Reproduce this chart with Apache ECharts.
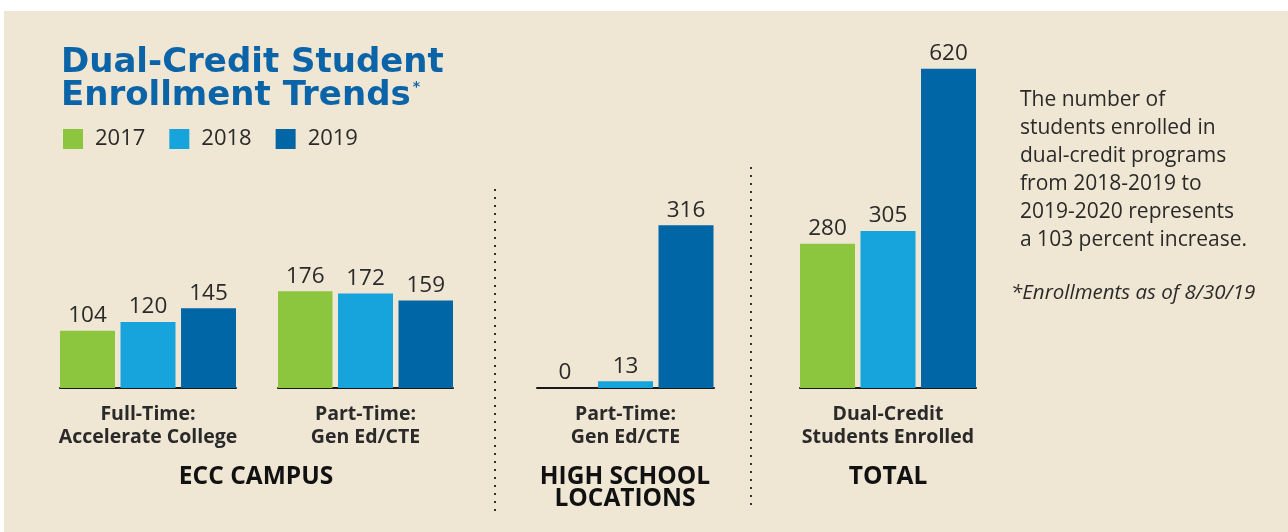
<!DOCTYPE html>
<html>
<head>
<meta charset="utf-8">
<style>
html,body{margin:0;padding:0;background:#ffffff;}
#chart{width:1288px;height:532px;}
</style>
<script src="https://cdn.jsdelivr.net/npm/echarts@6/dist/echarts.min.js"></script>
</head>
<body>
<div id="chart"></div>
<script>
const categories = ['Full-Time:\nAccelerate College', 'Part-Time:\nGen Ed/CTE', 'Part-Time:\nGen Ed/CTE', 'Dual-Credit\nStudents Enrolled'];
const years = ['2017', '2018', '2019'];
const values2017 = [104, 176, 0, 280];
const values2018 = [120, 172, 13, 305];
const values2019 = [145, 159, 316, 620];
const sections = ['ECC CAMPUS', 'HIGH SCHOOL\nLOCATIONS', 'TOTAL'];
const noteText = 'The number of\nstudents enrolled in\ndual-credit programs\nfrom 2018-2019 to\n2019-2020 represents\na 103 percent increase.';
const footText = '*Enrollments as of 8/30/19';

const seriesValues = [values2017, values2018, values2019];
const colors = ['#8cc63f', '#17a4dd', '#0066a6'];
const FONT = '"Open Sans", "Noto Sans", sans-serif';
const TITLE_FONT = '"DejaVu Sans", "Open Sans", sans-serif';

// panel layout
const panels = [
  {left: 60, width: 176, top: 3},
  {left: 278, width: 175, top: 3},
  {left: 537, width: 177, top: 27.5},
  {left: 800, width: 176, top: 27.5}
];
const BOTTOM = 144;

const grids = panels.map(p => ({left: p.left, width: p.width, top: p.top, bottom: BOTTOM}));
const xAxes = panels.map((p, i) => ({
  type: 'category', gridIndex: i, data: [categories[i]],
  axisLine: {show: true, lineStyle: {color: '#1a1a1a', width: 2}},
  axisTick: {show: false},
  axisLabel: {margin: 15, fontFamily: FONT, fontSize: 19.5, fontWeight: 'bold', color: '#2a2a2a', lineHeight: 23, interval: 0}
}));
const yAxes = panels.map((p, i) => ({
  type: 'value', gridIndex: i, min: 0, max: 700, show: false, splitLine: {show: false}
}));

const series = [];
panels.forEach((p, i) => {
  years.forEach((y, j) => {
    series.push({
      name: y, type: 'bar', xAxisIndex: i, yAxisIndex: i,
      data: [seriesValues[j][i]],
      barWidth: 55, barGap: '10%',
      itemStyle: {color: colors[j]},
      label: {show: true, position: 'top', distance: 3, fontFamily: FONT, fontSize: 22.5, lineHeight: 24, color: '#2a2a2a'}
    });
  });
});

const chart = echarts.init(document.getElementById('chart'));
chart.setOption({
  backgroundColor: 'transparent',
  animation: false,
  color: colors,
  title: {
    left: 61, top: 47, padding: 0,
    text: '{t|Dual-Credit Student}\n{t|Enrollment Trends}{s|*}',
    textStyle: {
      rich: {
        t: {fontFamily: TITLE_FONT, fontSize: 34, fontWeight: 'bold', color: '#0b64a8', lineHeight: 33},
        s: {fontFamily: TITLE_FONT, fontSize: 14, fontWeight: 'bold', color: '#0b64a8', lineHeight: 33, verticalAlign: 'top', padding: [0, 0, 0, 2]}
      }
    }
  },
  legend: {
    left: 63, top: 128, padding: 0, icon: 'rect', itemWidth: 20, itemHeight: 20, itemGap: 24,
    data: years,
    textStyle: {fontFamily: FONT, fontSize: 22, color: '#2a2a2a', padding: [0, 0, 0, 7]}
  },
  grid: grids,
  xAxis: xAxes,
  yAxis: yAxes,
  series: series,
  graphic: [
    {type: 'rect', z: -10, silent: true, shape: {x: 4, y: 11, width: 1284, height: 521}, style: {fill: '#efe6d3'}},
    {type: 'line', silent: true, shape: {x1: 495, y1: 189, x2: 495, y2: 511}, style: {stroke: '#333333', lineWidth: 2, lineDash: [2, 6]}},
    {type: 'line', silent: true, shape: {x1: 751, y1: 167, x2: 751, y2: 511}, style: {stroke: '#333333', lineWidth: 2, lineDash: [2, 6]}},
    {type: 'text', x: 256, y: 477, style: {text: sections[0], fontFamily: FONT, fontSize: 24.5, fontWeight: 'bold', fill: '#111111', textAlign: 'center', textVerticalAlign: 'middle'}},
    {type: 'text', x: 625, y: 488, style: {text: sections[1], fontFamily: FONT, fontSize: 24.5, fontWeight: 'bold', fill: '#111111', textAlign: 'center', textVerticalAlign: 'middle', lineHeight: 22}},
    {type: 'text', x: 888, y: 477, style: {text: sections[2], fontFamily: FONT, fontSize: 24.5, fontWeight: 'bold', fill: '#111111', textAlign: 'center', textVerticalAlign: 'middle'}},
    {type: 'text', x: 1020, y: 86, style: {text: noteText, fontFamily: FONT, fontSize: 21, fill: '#2a2a2a', lineHeight: 28, textAlign: 'left', textVerticalAlign: 'top'}},
    {type: 'text', x: 1011, y: 293, style: {text: footText, fontFamily: FONT, fontSize: 20.5, fontStyle: 'italic', fill: '#2a2a2a', textAlign: 'left', textVerticalAlign: 'middle'}}
  ]
});
</script>
</body>
</html>
